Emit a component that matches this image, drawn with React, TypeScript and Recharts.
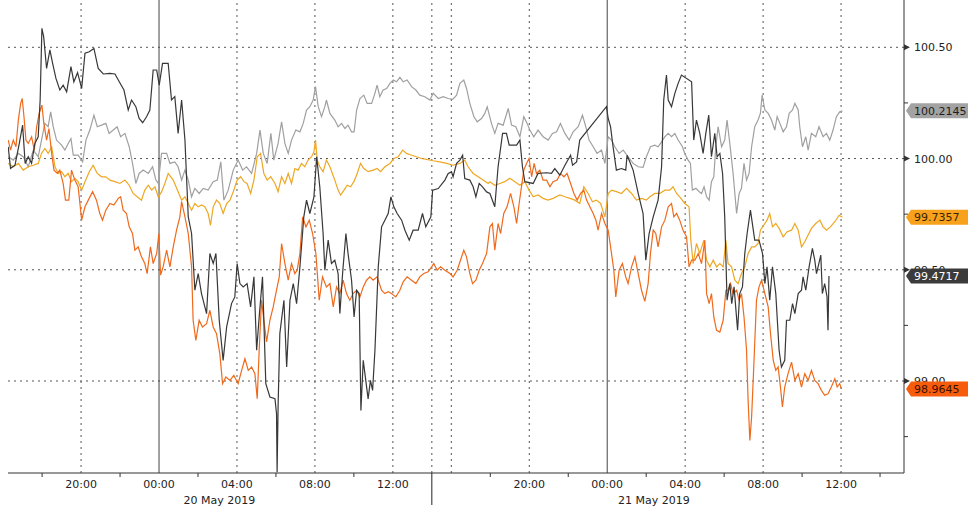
import React from 'react';
import { LineChart, Line, XAxis, YAxis, ReferenceLine } from 'recharts';

type P = [number, number];

// hours of chart time (session gap compressed) and price values
const darkSeries: P[] = [
  [0.26,100.053],[0.38,99.956],[0.61,99.97],[0.83,100.068],[1.0,100.15],[1.13,99.978],[1.29,100.008],[1.46,99.978],[1.63,100.068],[1.8,100.098],[1.9,100.263],[1.99,100.585],[2.08,100.548],[2.23,100.405],[2.4,100.488],[2.54,100.428],[2.71,100.36],[2.91,100.308],[3.08,100.33],[3.26,100.3],[3.48,100.413],[3.63,100.345],[3.82,100.386],[4.03,100.315],[4.2,100.473],[4.42,100.48],[4.66,100.495],[4.88,100.405],[5.14,100.38],[5.48,100.383],[5.74,100.38],[5.96,100.345],[6.2,100.308],[6.42,100.218],[6.59,100.263],[6.81,100.233],[6.98,100.18],[7.16,100.161],[7.36,100.188],[7.53,100.218],[7.7,100.398],[7.88,100.398],[8.01,100.33],[8.18,100.428],[8.39,100.428],[8.47,100.428],[8.64,100.263],[8.81,100.278],[8.98,100.113],[9.16,100.263],[9.33,100.083],[9.5,99.738],[9.67,99.663],[9.84,99.408],[10.01,99.483],[10.18,99.393],[10.44,99.303],[10.61,99.573],[10.78,99.528],[10.92,99.573],[11.09,99.273],[11.29,99.093],[11.47,99.243],[11.72,99.348],[11.89,99.378],[12.01,99.528],[12.15,99.438],[12.32,99.423],[12.52,99.438],[12.7,99.333],[12.87,99.468],[13.01,99.138],[13.14,99.288],[13.31,99.468],[13.48,98.988],[13.69,98.928],[13.95,98.92],[14.03,98.853],[14.06,98.59],[14.11,98.883],[14.2,99.213],[14.41,99.363],[14.55,99.063],[14.72,99.363],[14.89,99.438],[15.06,99.348],[15.23,99.513],[15.43,99.738],[15.57,99.813],[15.74,99.753],[15.95,99.828],[16.09,100.008],[16.25,99.873],[16.42,99.663],[16.51,99.498],[16.68,99.633],[16.85,99.528],[17.02,99.543],[17.19,99.483],[17.28,99.303],[17.42,99.483],[17.59,99.663],[17.7,99.573],[17.88,99.453],[18.01,99.288],[18.14,99.408],[18.27,99.393],[18.36,98.868],[18.48,99.093],[18.61,99.003],[18.73,98.92],[18.85,99.003],[18.96,98.958],[19.08,99.138],[19.25,99.513],[19.42,99.693],[19.59,99.723],[19.76,99.753],[19.9,99.828],[20.05,99.783],[20.22,99.753],[20.45,99.723],[20.62,99.678],[20.84,99.633],[21.04,99.678],[21.3,99.678],[21.52,99.753],[21.69,99.693],[21.95,99.738],[22.04,99.858],[22.33,99.865],[22.67,99.903],[22.84,99.933],[23.01,99.94],[23.09,99.918],[23.27,99.978],[23.44,99.993],[23.58,100.015],[23.69,99.91],[23.95,99.903],[24.12,99.873],[24.26,99.828],[24.43,99.888],[24.6,99.873],[24.81,99.85],[24.98,99.843],[25.23,99.783],[25.4,99.963],[25.63,100.113],[25.83,100.113],[25.97,100.06],[26.35,100.06],[26.52,100.083],[26.65,99.963],[26.77,99.896],[27.2,99.888],[27.45,99.933],[27.89,99.936],[28.14,99.933],[28.31,99.955],[28.57,99.925],[28.83,99.97],[29.12,100.015],[29.22,99.97],[29.43,99.985],[29.59,100.083],[30.96,100.233],[31.05,100.18],[31.17,100.143],[31.3,100.053],[31.47,99.948],[31.73,99.955],[31.95,99.948],[32.02,100.015],[32.33,99.948],[32.59,99.843],[32.84,99.753],[32.98,99.543],[33.15,99.663],[33.36,99.738],[33.61,99.813],[33.79,99.963],[33.9,100.263],[34.04,100.375],[34.13,100.263],[34.3,100.233],[34.47,100.293],[34.64,100.338],[34.81,100.375],[35.33,100.345],[35.44,100.083],[35.58,100.173],[35.75,100.113],[35.92,100.023],[36.06,100.113],[36.21,100.195],[36.35,100.008],[36.52,100.113],[36.64,100.008],[36.78,100.023],[36.92,99.933],[37.03,99.738],[37.15,99.363],[37.29,99.438],[37.39,99.348],[37.51,99.423],[37.69,99.228],[37.8,99.393],[37.94,99.423],[38.06,99.573],[38.18,99.663],[38.35,99.768],[38.57,99.633],[38.79,99.633],[38.97,99.573],[39.09,99.438],[39.2,99.513],[39.34,99.363],[39.48,99.513],[39.65,99.393],[39.82,99.138],[39.94,99.063],[40.11,99.093],[40.2,99.273],[40.37,99.273],[40.51,99.348],[40.63,99.303],[40.8,99.393],[40.97,99.408],[41.05,99.468],[41.19,99.408],[41.36,99.513],[41.53,99.596],[41.65,99.543],[41.74,99.483],[41.96,99.566],[42.04,99.393],[42.16,99.438],[42.28,99.378],[42.33,99.228],[42.38,99.4717],
];

const graySeries: P[] = [
  [0.26,100.008],[0.52,99.993],[0.78,100.023],[1.03,100.008],[1.29,99.963],[1.55,100.038],[1.8,100.008],[1.97,100.083],[2.14,100.158],[2.31,100.143],[2.44,100.21],[2.57,100.143],[2.74,100.083],[3.0,100.06],[3.17,100.038],[3.34,100.068],[3.48,100.09],[3.6,100.015],[3.85,100.015],[4.08,99.985],[4.25,100.083],[4.45,100.128],[4.66,100.195],[4.83,100.143],[5.05,100.15],[5.27,100.158],[5.44,100.113],[5.65,100.128],[5.85,100.143],[6.03,100.098],[6.25,100.113],[6.47,100.053],[6.64,99.978],[6.81,99.888],[6.98,99.933],[7.19,99.948],[7.45,99.933],[7.67,99.963],[7.84,99.903],[7.96,99.888],[8.13,100.023],[8.39,100.023],[8.56,99.978],[8.81,99.985],[8.98,99.963],[9.16,99.903],[9.33,99.948],[9.5,99.903],[9.67,99.828],[9.84,99.866],[10.06,99.843],[10.27,99.866],[10.52,99.858],[10.78,99.896],[10.99,99.903],[11.17,99.985],[11.33,99.813],[11.55,99.858],[11.81,99.948],[12.06,99.993],[12.29,99.948],[12.49,99.963],[12.75,99.933],[13.01,100.023],[13.18,100.128],[13.35,100.023],[13.55,99.978],[13.74,100.113],[13.89,99.993],[14.11,100.068],[14.29,100.165],[14.46,100.068],[14.63,100.023],[14.8,100.083],[15.02,100.128],[15.23,100.12],[15.4,100.158],[15.57,100.218],[15.74,100.233],[15.91,100.263],[16.03,100.323],[16.17,100.233],[16.34,100.188],[16.51,100.233],[16.59,100.263],[16.77,100.203],[17.02,100.173],[17.19,100.143],[17.37,100.158],[17.54,100.135],[17.7,100.15],[17.88,100.12],[18.01,100.12],[18.14,100.218],[18.31,100.27],[18.51,100.285],[18.68,100.248],[18.91,100.248],[19.08,100.293],[19.19,100.33],[19.33,100.278],[19.5,100.308],[19.68,100.315],[19.85,100.338],[20.02,100.353],[20.19,100.345],[20.36,100.365],[20.53,100.345],[20.73,100.353],[20.96,100.323],[21.18,100.308],[21.38,100.285],[21.64,100.278],[21.9,100.263],[22.07,100.293],[22.33,100.27],[22.58,100.278],[22.84,100.27],[23.07,100.266],[23.27,100.285],[23.44,100.338],[23.64,100.353],[23.78,100.315],[23.95,100.248],[24.16,100.188],[24.33,100.165],[24.55,100.18],[24.72,100.203],[24.84,100.233],[25.06,100.158],[25.23,100.113],[25.4,100.158],[25.66,100.15],[25.92,100.225],[26.09,100.15],[26.31,100.143],[26.52,100.098],[26.72,100.188],[26.89,100.158],[27.03,100.128],[27.23,100.098],[27.45,100.128],[27.71,100.098],[27.97,100.083],[28.19,100.113],[28.4,100.12],[28.6,100.158],[28.83,100.113],[29.05,100.083],[29.25,100.12],[29.51,100.143],[29.73,100.195],[29.9,100.143],[30.07,100.083],[30.28,100.053],[30.48,100.023],[30.71,100.038],[30.88,99.978],[31.05,100.098],[31.22,100.083],[31.39,100.053],[31.61,100.023],[31.82,100.038],[32.07,100.008],[32.33,99.978],[32.59,99.963],[32.84,99.96],[33.01,100.008],[33.22,100.053],[33.44,100.06],[33.61,100.053],[33.79,100.075],[33.96,100.098],[34.13,100.113],[34.3,100.098],[34.47,100.113],[34.64,100.083],[34.86,100.053],[34.98,100.023],[35.15,99.993],[35.27,99.978],[35.37,99.858],[35.55,99.866],[35.72,99.851],[35.84,99.843],[35.97,99.873],[36.1,99.828],[36.23,99.813],[36.35,99.896],[36.47,99.918],[36.57,100.053],[36.69,100.143],[36.87,100.053],[37.03,100.083],[37.15,100.173],[37.29,100.068],[37.46,99.933],[37.64,99.753],[37.77,99.843],[37.89,99.866],[38.02,99.978],[38.15,99.903],[38.28,99.933],[38.41,100.053],[38.57,100.143],[38.74,100.173],[38.86,100.203],[38.95,100.285],[39.09,100.218],[39.26,100.203],[39.43,100.173],[39.6,100.128],[39.72,100.188],[39.86,100.158],[40.03,100.12],[40.2,100.143],[40.34,100.203],[40.51,100.218],[40.63,100.248],[40.8,100.218],[40.88,100.143],[41.02,100.053],[41.19,100.098],[41.31,100.038],[41.48,100.113],[41.7,100.098],[41.87,100.143],[42.08,100.098],[42.25,100.113],[42.42,100.083],[42.59,100.128],[42.76,100.188],[42.93,100.21],[43.07,100.2145],
];

const yellowSeries: P[] = [
  [0.26,99.978],[0.52,99.963],[0.78,99.978],[1.03,99.948],[1.29,99.963],[1.55,99.97],[1.8,99.978],[1.97,100.023],[2.14,100.045],[2.31,100.023],[2.49,100.053],[2.66,99.963],[2.83,99.933],[3.0,99.941],[3.17,99.918],[3.34,99.933],[3.51,99.896],[3.68,99.911],[3.85,99.896],[4.03,99.858],[4.2,99.896],[4.42,99.941],[4.62,99.97],[4.83,99.933],[5.05,99.918],[5.27,99.918],[5.48,99.903],[5.74,99.896],[5.99,99.888],[6.25,99.903],[6.47,99.88],[6.67,99.843],[6.88,99.828],[7.1,99.813],[7.27,99.858],[7.45,99.88],[7.62,99.858],[7.79,99.873],[7.96,99.828],[8.13,99.85],[8.3,99.888],[8.47,99.933],[8.73,99.903],[8.98,99.851],[9.16,99.813],[9.33,99.828],[9.5,99.798],[9.67,99.768],[9.84,99.798],[10.01,99.783],[10.18,99.791],[10.35,99.783],[10.52,99.753],[10.64,99.7],[10.78,99.783],[10.95,99.813],[11.12,99.798],[11.29,99.753],[11.47,99.798],[11.64,99.813],[11.81,99.851],[12.01,99.903],[12.19,99.918],[12.36,99.896],[12.52,99.888],[12.7,99.843],[12.87,99.903],[13.04,100.008],[13.21,100.023],[13.38,99.933],[13.55,99.903],[13.73,99.918],[13.95,99.888],[14.11,99.851],[14.29,99.918],[14.46,99.888],[14.63,99.933],[14.8,99.888],[14.97,99.955],[15.14,99.948],[15.31,99.978],[15.48,99.963],[15.65,99.993],[15.83,100.008],[15.95,100.03],[16.03,100.083],[16.12,99.993],[16.25,99.963],[16.42,99.94],[16.59,99.993],[16.77,99.963],[17.02,99.903],[17.19,99.858],[17.32,99.836],[17.49,99.858],[17.66,99.88],[17.83,99.873],[18.0,99.896],[18.17,99.933],[18.34,99.978],[18.51,99.955],[18.73,99.941],[18.99,99.948],[19.19,99.955],[19.37,99.941],[19.59,99.963],[19.85,99.978],[20.05,100.0],[20.27,100.008],[20.5,100.038],[20.7,100.023],[20.96,100.015],[21.21,100.008],[21.47,100.0],[21.73,99.996],[22.07,99.99],[22.41,99.985],[22.76,99.978],[23.09,99.97],[23.44,99.978],[23.69,99.993],[23.86,99.963],[24.12,99.933],[24.38,99.918],[24.63,99.903],[24.89,99.888],[24.98,99.896],[25.23,99.88],[25.49,99.888],[25.74,99.896],[26.0,99.911],[26.26,99.896],[26.52,99.88],[26.77,99.896],[26.99,99.858],[27.2,99.828],[27.45,99.836],[27.71,99.821],[27.97,99.813],[28.22,99.821],[28.57,99.836],[28.83,99.828],[29.09,99.821],[29.34,99.813],[29.59,99.798],[29.8,99.873],[30.02,99.843],[30.24,99.806],[30.45,99.813],[30.66,99.798],[30.88,99.738],[31.05,99.843],[31.22,99.858],[31.47,99.851],[31.73,99.843],[31.99,99.866],[32.25,99.843],[32.5,99.813],[32.76,99.821],[33.01,99.813],[33.19,99.828],[33.44,99.843],[33.7,99.843],[33.96,99.858],[34.21,99.858],[34.38,99.873],[34.56,99.843],[34.72,99.828],[34.98,99.798],[35.2,99.783],[35.29,99.633],[35.41,99.528],[35.58,99.618],[35.75,99.573],[35.96,99.633],[36.1,99.543],[36.27,99.513],[36.44,99.543],[36.61,99.513],[36.78,99.528],[36.95,99.513],[37.09,99.633],[37.2,99.528],[37.38,99.513],[37.55,99.453],[37.72,99.438],[37.89,99.483],[38.06,99.513],[38.23,99.573],[38.41,99.603],[38.57,99.603],[38.74,99.618],[38.86,99.678],[39.03,99.7],[39.2,99.723],[39.34,99.753],[39.48,99.693],[39.65,99.708],[39.82,99.686],[40.03,99.648],[40.23,99.671],[40.46,99.678],[40.63,99.708],[40.8,99.678],[40.97,99.603],[41.14,99.626],[41.31,99.656],[41.48,99.686],[41.7,99.708],[41.91,99.723],[42.08,99.693],[42.25,99.678],[42.45,99.693],[42.68,99.716],[42.9,99.745],[43.07,99.7357],
];

const orangeSeries: P[] = [
  [0.26,100.083],[0.38,100.038],[0.52,100.083],[0.66,100.053],[0.78,100.173],[0.9,100.248],[0.98,100.27],[1.07,100.188],[1.17,100.083],[1.29,100.068],[1.46,100.098],[1.6,100.038],[1.72,100.143],[1.85,100.203],[1.99,100.24],[2.09,100.158],[2.23,100.083],[2.35,100.135],[2.49,100.023],[2.61,99.948],[2.78,99.933],[2.91,99.948],[3.08,99.888],[3.2,99.813],[3.37,99.813],[3.51,99.948],[3.68,99.903],[3.85,99.873],[4.03,99.723],[4.2,99.783],[4.37,99.813],[4.59,99.851],[4.79,99.813],[4.96,99.753],[5.1,99.723],[5.27,99.768],[5.48,99.798],[5.68,99.791],[5.91,99.821],[6.03,99.828],[6.16,99.768],[6.33,99.753],[6.47,99.693],[6.64,99.663],[6.76,99.588],[6.93,99.603],[7.1,99.558],[7.27,99.528],[7.39,99.483],[7.56,99.603],[7.7,99.528],[7.88,99.573],[7.99,99.663],[8.08,99.476],[8.21,99.513],[8.39,99.588],[8.56,99.513],[8.73,99.603],[8.9,99.678],[9.07,99.738],[9.16,99.806],[9.33,99.738],[9.5,99.663],[9.67,99.513],[9.75,99.273],[9.89,99.183],[10.06,99.273],[10.23,99.243],[10.44,99.258],[10.61,99.318],[10.78,99.243],[10.95,99.213],[11.12,99.123],[11.26,98.988],[11.43,99.018],[11.64,99.003],[11.84,99.025],[12.06,98.988],[12.24,99.048],[12.41,99.1],[12.58,99.048],[12.75,99.063],[12.92,99.033],[13.04,98.92],[13.14,99.138],[13.26,99.363],[13.38,99.273],[13.52,99.176],[13.69,99.273],[13.86,99.333],[14.03,99.408],[14.17,99.468],[14.29,99.618],[14.46,99.528],[14.63,99.453],[14.8,99.528],[14.97,99.483],[15.09,99.498],[15.23,99.573],[15.37,99.738],[15.54,99.693],[15.71,99.723],[15.88,99.663],[16.05,99.573],[16.22,99.363],[16.39,99.468],[16.59,99.423],[16.77,99.438],[16.94,99.333],[17.11,99.423],[17.28,99.393],[17.45,99.453],[17.62,99.393],[17.79,99.363],[17.96,99.393],[18.14,99.408],[18.31,99.378],[18.48,99.423],[18.65,99.453],[18.82,99.468],[18.99,99.453],[19.19,99.468],[19.42,99.408],[19.59,99.393],[19.76,99.401],[19.93,99.393],[20.15,99.378],[20.36,99.408],[20.53,99.446],[20.73,99.468],[20.96,99.453],[21.18,99.438],[21.38,99.468],[21.59,99.483],[21.81,99.491],[21.99,99.513],[22.1,99.528],[22.27,99.498],[22.45,99.513],[22.67,99.498],[22.93,99.483],[23.09,99.468],[23.3,99.498],[23.47,99.543],[23.64,99.588],[23.78,99.558],[23.95,99.483],[24.09,99.438],[24.26,99.453],[24.43,99.498],[24.6,99.528],[24.81,99.573],[24.98,99.693],[25.11,99.708],[25.23,99.588],[25.4,99.708],[25.53,99.663],[25.69,99.753],[25.86,99.783],[26.04,99.843],[26.21,99.783],[26.35,99.708],[26.48,99.798],[26.6,99.873],[26.72,99.948],[26.86,99.978],[26.99,100.0],[27.12,99.918],[27.25,99.978],[27.37,99.933],[27.54,99.948],[27.71,99.903],[27.89,99.903],[28.06,99.873],[28.22,99.896],[28.43,99.903],[28.6,99.933],[28.78,99.918],[28.94,99.933],[29.12,99.888],[29.29,99.843],[29.46,99.813],[29.63,99.843],[29.8,99.858],[29.94,99.813],[30.11,99.783],[30.28,99.753],[30.42,99.723],[30.53,99.678],[30.71,99.753],[30.88,99.708],[31.05,99.678],[31.22,99.573],[31.34,99.498],[31.44,99.378],[31.61,99.498],[31.78,99.528],[31.95,99.468],[32.07,99.438],[32.25,99.513],[32.42,99.558],[32.59,99.483],[32.76,99.408],[32.93,99.358],[33.1,99.438],[33.22,99.573],[33.36,99.678],[33.49,99.663],[33.61,99.603],[33.79,99.693],[33.96,99.723],[34.13,99.783],[34.3,99.798],[34.42,99.738],[34.56,99.753],[34.72,99.723],[34.89,99.678],[35.07,99.648],[35.2,99.513],[35.33,99.543],[35.5,99.543],[35.67,99.573],[35.84,99.528],[36.01,99.633],[36.1,99.393],[36.23,99.348],[36.35,99.393],[36.47,99.288],[36.61,99.228],[36.78,99.22],[36.95,99.273],[37.09,99.408],[37.2,99.408],[37.33,99.438],[37.46,99.393],[37.64,99.408],[37.77,99.363],[37.89,99.393],[38.02,99.288],[38.15,99.138],[38.23,98.913],[38.32,98.733],[38.41,98.838],[38.52,99.063],[38.66,99.363],[38.79,99.423],[38.92,99.453],[39.09,99.393],[39.26,99.333],[39.38,99.213],[39.52,99.093],[39.65,99.048],[39.77,99.063],[39.89,98.973],[39.99,98.883],[40.11,98.973],[40.28,99.033],[40.46,99.085],[40.63,99.003],[40.8,99.033],[40.97,98.973],[41.14,99.033],[41.31,99.003],[41.48,99.048],[41.65,99.003],[41.82,98.988],[41.99,98.958],[42.16,98.936],[42.33,98.943],[42.5,98.973],[42.68,99.01],[42.8,98.973],[42.93,98.988],[43.02,98.9645],
];

const timeTicks = [2, 4, 6, 8, 10, 11.1, 12, 14, 16, 18, 20, 22, 25, 27, 29, 31, 33, 33.4, 35, 37, 39, 41, 43, 45];
const timeLabels: Record<number, string> = {
  4: '20:00', 8: '00:00', 12: '04:00', 16: '08:00', 20: '12:00',
  27: '20:00', 31: '00:00', 35: '04:00', 39: '08:00', 43: '12:00',
};
const dateLabels: Record<number, string> = { 11.1: '20 May 2019', 33.4: '21 May 2019' };
const sessionBreak = 22;
const dottedTimes = [4, 12, 16, 20, 22, 23, 27, 35, 39, 43];
const solidTimes = [8, 31];
const majorPrices = [99, 99.5, 100, 100.5];
const minorPrices = [98.75, 99.25, 99.75, 100.25];

const lastTags = [
  { value: 100.2145, bg: '#a3a3a3', fg: '#1e1e1e' },
  { value: 99.7357, bg: '#f7a11c', fg: '#3a2400' },
  { value: 99.4717, bg: '#3b3b3b', fg: '#ffffff' },
  { value: 98.9645, bg: '#f65c0c', fg: '#3a1000' },
];
// axis ticks: grid prices first, last-value tags after so that tags are drawn on top
const priceTicks = [...minorPrices, ...majorPrices, ...lastTags.map((t) => t.value)];

const FONT = '"DejaVu Sans", Verdana, sans-serif';
const toRows = (s: P[]) => s.map(([t, v]) => ({ t, v }));

const TimeTick = (props: any) => {
  const { x, y, payload } = props;
  const v = payload.value as number;
  const label = timeLabels[v];
  const date = dateLabels[v];
  if (date) {
    return (
      <text x={x} y={y + 31} textAnchor="middle" fontSize={11} fontFamily={FONT} fill="#222">
        {date}
      </text>
    );
  }
  const isBreak = v === sessionBreak;
  return (
    <g>
      {!label && <line x1={x} x2={x} y1={y} y2={y + (isBreak ? 32 : 4)} stroke={isBreak ? '#222' : '#333'} strokeWidth={1} />}
      {label && (
        <text x={x} y={y + 15} textAnchor="middle" fontSize={11} fontFamily={FONT} fill="#222">
          {label}
        </text>
      )}
    </g>
  );
};

const PriceTick = (props: any) => {
  const { x, y, payload } = props;
  const v = payload.value as number;
  const tag = lastTags.find((t) => t.value === v);
  if (tag) {
    const left = x + 2;
    const h = 7.5;
    return (
      <g>
        <path
          d={`M${left},${y}L${left + 5},${y - h}L${left + 62},${y - h}L${left + 62},${y + h}L${left + 5},${y + h}Z`}
          fill={tag.bg}
        />
        <text x={left + 8} y={y + 4} fontSize={11} fontFamily={FONT} fill={tag.fg}>
          {v.toFixed(4)}
        </text>
      </g>
    );
  }
  if (!majorPrices.includes(v)) {
    return <line x1={x} x2={x + 4} y1={y} y2={y} stroke="#333" />;
  }
  return (
    <g>
      <path d={`M${x},${y - 3}L${x + 6},${y}L${x},${y + 3}Z`} fill="#333" />
      <text x={x + 10} y={y + 4} fontSize={11} fontFamily={FONT} fill="#222">
        {v.toFixed(2)}
      </text>
    </g>
  );
};

export default function App() {
  return (
    <div style={{ position: 'absolute', left: 0, top: 0, width: 976, height: 511, background: '#fff' }}>
      <LineChart width={976} height={511} margin={{ top: 0, right: 12, bottom: 0, left: 8 }}>
        <XAxis
          type="number"
          dataKey="t"
          domain={[0.25, 46.23]}
          allowDataOverflow
          ticks={timeTicks}
          interval={0}
          tick={<TimeTick />}
          tickLine={false}
          tickSize={0}
          tickMargin={0}
          axisLine={{ stroke: '#333' }}
          height={38}
        />
        <YAxis
          orientation="right"
          type="number"
          domain={[98.5865, 100.7126]}
          allowDataOverflow
          ticks={priceTicks}
          interval={0}
          tick={<PriceTick />}
          tickLine={false}
          tickSize={0}
          tickMargin={0}
          axisLine={{ stroke: '#333' }}
          width={60}
        />
        {majorPrices.map((p) => (
          <ReferenceLine key={'h' + p} y={p} stroke="#555" strokeDasharray="2 4" />
        ))}
        {dottedTimes.map((t) => (
          <ReferenceLine key={'v' + t} x={t} stroke="#555" strokeDasharray="2 4" />
        ))}
        {solidTimes.map((t) => (
          <ReferenceLine key={'s' + t} x={t} stroke="#444" />
        ))}
        <Line data={toRows(graySeries)} dataKey="v" type="linear" stroke="#a0a0a0" strokeWidth={1.2} dot={false} isAnimationActive={false} />
        <Line data={toRows(yellowSeries)} dataKey="v" type="linear" stroke="#eea722" strokeWidth={1.2} dot={false} isAnimationActive={false} />
        <Line data={toRows(orangeSeries)} dataKey="v" type="linear" stroke="#ef6a1c" strokeWidth={1.2} dot={false} isAnimationActive={false} />
        <Line data={toRows(darkSeries)} dataKey="v" type="linear" stroke="#383838" strokeWidth={1.2} dot={false} isAnimationActive={false} />
      </LineChart>
    </div>
  );
}
